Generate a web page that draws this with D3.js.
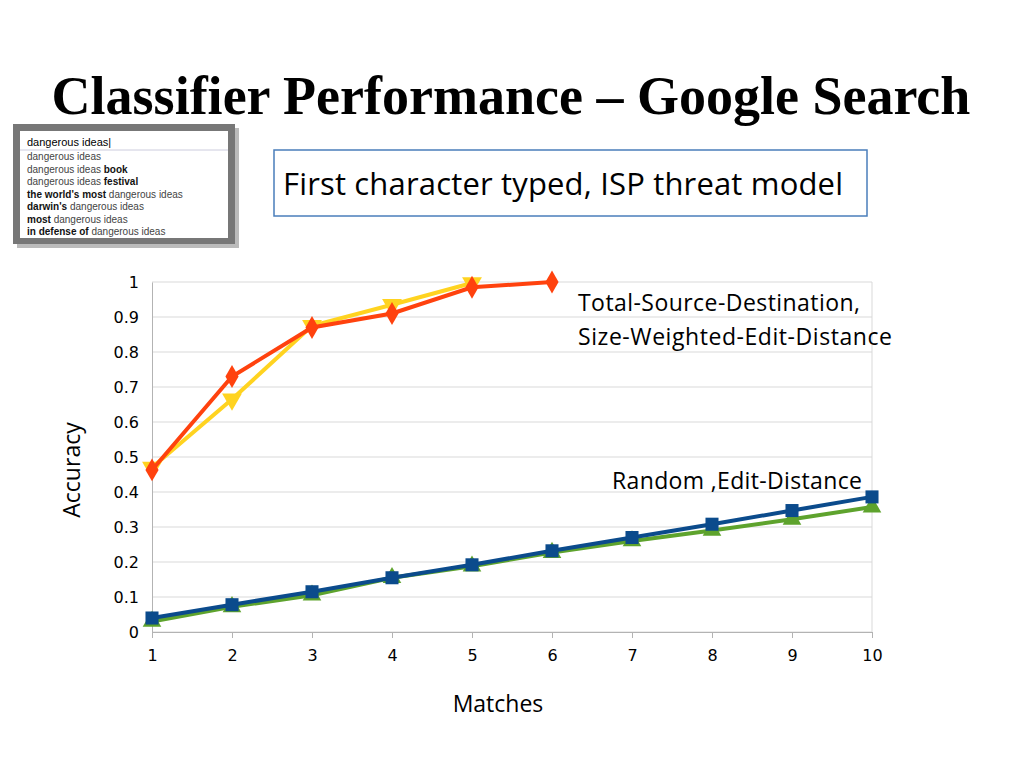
<!DOCTYPE html>
<html><head><meta charset="utf-8">
<script src="https://cdn.jsdelivr.net/npm/d3@7"></script>
<style>body{margin:0;background:#fff;}svg{display:block}</style>
</head><body><svg width="1023" height="767"></svg>
<script>
const matches=[1,2,3,4,5,6,7,8,9,10];
const yTicks=[0,0.1,0.2,0.3,0.4,0.5,0.6,0.7,0.8,0.9,1];
const orangeVals=[0.463,0.73,0.87,0.91,0.985,1.0];
const yellowVals=[0.47,0.665,0.875,0.935,0.997];
const blueVals=[0.04,0.078,0.115,0.155,0.192,0.232,0.27,0.308,0.347,0.386];
const greenVals=[0.03,0.072,0.105,0.155,0.188,0.227,0.26,0.29,0.322,0.357];
const suggestions=[["dangerous ideas",""],["dangerous ideas ","book"],["dangerous ideas ","festival"],["the world's most"," dangerous ideas",1],["darwin's"," dangerous ideas",1],["most"," dangerous ideas",1],["in defense of"," dangerous ideas",1]];

const svg=d3.select("svg");
svg.append("text").attr("x",511).attr("y",114).attr("text-anchor","middle")
 .attr("font-family","Liberation Serif").attr("font-weight","bold").attr("font-size",54).text("Classifier Performance – Google Search");

const g0=svg.append("g");
g0.append("rect").attr("x",17).attr("y",128).attr("width",222).attr("height",120).attr("fill","#bbb");
g0.append("rect").attr("x",13).attr("y",124).attr("width",222).attr("height",120).attr("fill","#777");
g0.append("rect").attr("x",20).attr("y",131).attr("width",208).attr("height",107).attr("fill","#fff");
g0.append("line").attr("x1",20).attr("x2",228).attr("y1",150).attr("y2",150).attr("stroke","#ccd");
g0.append("text").attr("x",27).attr("y",146).attr("font-family","Liberation Sans").attr("font-size",11).text("dangerous ideas|");
suggestions.forEach((s,i)=>{
 const t=g0.append("text").attr("x",27).attr("y",160+i*12.5).attr("font-family","Liberation Sans").attr("font-size",10).attr("fill","#444");
 if(s[2]){t.append("tspan").attr("font-weight","bold").attr("fill","#111").text(s[0]);t.append("tspan").text(s[1]);}
 else{t.append("tspan").text(s[0]);t.append("tspan").attr("font-weight","bold").attr("fill","#111").text(s[1]);}
});

svg.append("rect").attr("x",274).attr("y",150).attr("width",593).attr("height",66).attr("fill","#fff").attr("stroke","#4a7ebb").attr("stroke-width",1.5);
svg.append("text").attr("x",283).attr("y",195).attr("font-family","Open Sans").attr("font-size",31).attr("textLength",560).text("First character typed, ISP threat model");

const x=d3.scaleLinear().domain([1,10]).range([152,872]);
const y=d3.scaleLinear().domain([0,1]).range([632,282]);
const grid=svg.append("g");
yTicks.forEach(v=>grid.append("line").attr("x1",152).attr("x2",872).attr("y1",y(v)).attr("y2",y(v)).attr("stroke","#d9d9d9"));
grid.append("line").attr("x1",872).attr("x2",872).attr("y1",y(1)).attr("y2",y(0)).attr("stroke","#d9d9d9");
svg.append("g").attr("transform","translate(152,0)").call(d3.axisLeft(y).tickValues(yTicks).tickFormat(d3.format("")).tickSize(0).tickPadding(13))
 .call(g=>{g.select(".domain").attr("stroke","#b3b3b3");g.selectAll("text").attr("font-family","DejaVu Sans").attr("font-size",16).attr("fill","#000");});
svg.append("g").attr("transform","translate(0,632)").call(d3.axisBottom(x).tickValues(matches).tickFormat(d3.format("d")).tickSize(6).tickPadding(12))
 .call(g=>{g.select(".domain").attr("stroke","#b3b3b3");g.selectAll("line").attr("stroke","#b3b3b3");g.selectAll("text").attr("font-family","DejaVu Sans").attr("font-size",16).attr("fill","#000");});
svg.append("text").attr("transform","translate(80,470) rotate(-90)").attr("text-anchor","middle").attr("font-family","Open Sans").attr("font-size",23).text("Accuracy");
svg.append("text").attr("x",498).attr("y",712).attr("text-anchor","middle").attr("font-family","Open Sans").attr("font-size",23).text("Matches");

const line=d3.line().x((d,i)=>x(i+1)).y(d=>y(d));
function series(vals,color,sym,size,rot){
 svg.append("path").datum(vals).attr("d",line).attr("fill","none").attr("stroke",color).attr("stroke-width",4);
 svg.selectAll(null).data(vals).enter().append("path").attr("d",d3.symbol().type(sym).size(size))
  .attr("transform",(d,i)=>`translate(${x(i+1)},${y(d)}) rotate(${rot})`).attr("fill",color);
}
series(greenVals,"#5ea32d",d3.symbolTriangle,150,0);
series(blueVals,"#0b4b8c",d3.symbolSquare,170,0);
series(yellowVals,"#ffd320",d3.symbolTriangle,170,180);
series(orangeVals,"#ff420e",d3.symbolDiamond,150,0);

[["Total-Source-Destination,",578,311,282],["Size-Weighted-Edit-Distance",578,345,314],["Random ,Edit-Distance",612,489,250]].forEach(([t,a,b,w])=>{
 svg.append("text").attr("x",a).attr("y",b).attr("font-family","Open Sans").attr("font-size",23).attr("textLength",w).text(t);
});
</script></body></html>
